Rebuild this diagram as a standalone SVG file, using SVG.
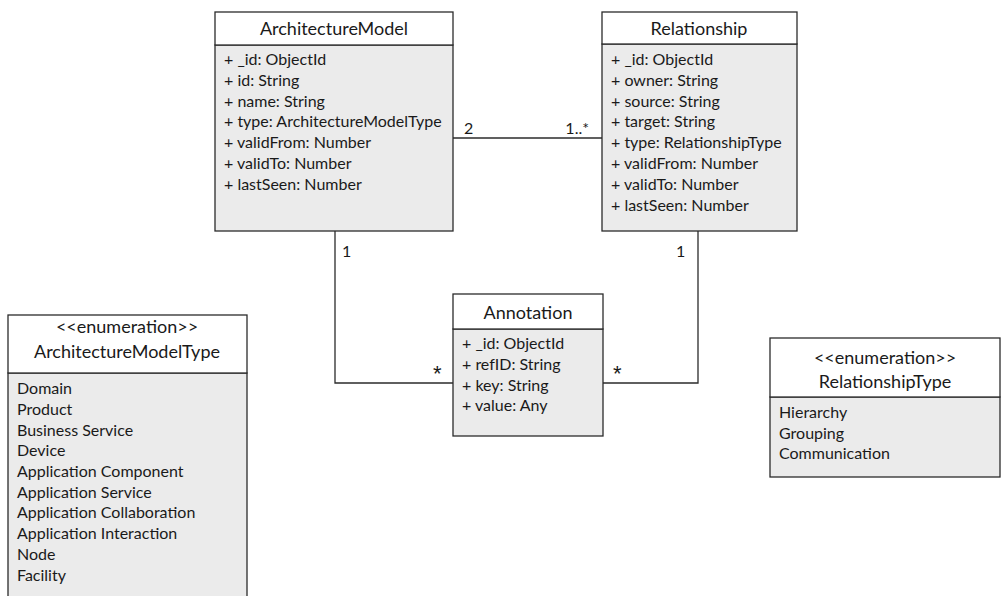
<svg xmlns="http://www.w3.org/2000/svg" width="1001" height="596" viewBox="0 0 1001 596">
  <style>
    .hdr { fill: #ffffff; stroke: #2b2b2b; stroke-width: 1.3; }
    .body { fill: #ebebeb; stroke: #2b2b2b; stroke-width: 1.3; }
    .title { font-family: Lato, "Liberation Sans", sans-serif; font-size: 18px; fill: #1a1a1a; text-anchor: middle; }
    .attr { font-family: Lato, "Liberation Sans", sans-serif; font-size: 16px; fill: #1a1a1a; }
    .mult { font-family: Lato, "Liberation Sans", sans-serif; font-size: 16px; fill: #1a1a1a; }
    .star { font-family: "Liberation Sans", sans-serif; font-size: 22px; fill: #1a1a1a; }
    .conn { fill: none; stroke: #2b2b2b; stroke-width: 1.3; }
  </style>
  <rect width="1001" height="596" fill="#ffffff"/>

  <g id="connectors">
    <line class="conn" x1="453" y1="138" x2="602" y2="138"/>
    <polyline class="conn" points="335,231 335,383 453,383"/>
    <polyline class="conn" points="698,231 698,383 603,383"/>
    <text class="mult" x="464" y="134">2</text>
    <text class="mult" x="589" y="134" text-anchor="end">1..*</text>
    <text class="mult" x="342" y="257">1</text>
    <text class="mult" x="676" y="257">1</text>
    <text class="star" x="433" y="381">*</text>
    <text class="star" x="613" y="381">*</text>
  </g>

  <g id="ArchitectureModel">
    <rect class="body" x="215" y="45" width="238" height="186"/>
    <rect class="hdr" x="215" y="12" width="238" height="33"/>
    <text class="title" x="334" y="35">ArchitectureModel</text>
    <text class="attr" x="224" y="65">+ _id: ObjectId</text>
    <text class="attr" x="224" y="86">+ id: String</text>
    <text class="attr" x="224" y="107">+ name: String</text>
    <text class="attr" x="224" y="127">+ type: ArchitectureModelType</text>
    <text class="attr" x="224" y="148">+ validFrom: Number</text>
    <text class="attr" x="224" y="169">+ validTo: Number</text>
    <text class="attr" x="224" y="190">+ lastSeen: Number</text>
  </g>

  <g id="Relationship">
    <rect class="body" x="602" y="44" width="195" height="187"/>
    <rect class="hdr" x="602" y="12" width="195" height="32"/>
    <text class="title" x="699" y="35">Relationship</text>
    <text class="attr" x="611" y="65">+ _id: ObjectId</text>
    <text class="attr" x="611" y="86">+ owner: String</text>
    <text class="attr" x="611" y="107">+ source: String</text>
    <text class="attr" x="611" y="127">+ target: String</text>
    <text class="attr" x="611" y="148">+ type: RelationshipType</text>
    <text class="attr" x="611" y="169">+ validFrom: Number</text>
    <text class="attr" x="611" y="190">+ validTo: Number</text>
    <text class="attr" x="611" y="211">+ lastSeen: Number</text>
  </g>

  <g id="Annotation">
    <rect class="body" x="453" y="329" width="150" height="107"/>
    <rect class="hdr" x="453" y="294" width="150" height="35"/>
    <text class="title" x="528" y="319">Annotation</text>
    <text class="attr" x="462" y="349">+ _id: ObjectId</text>
    <text class="attr" x="462" y="370">+ refID: String</text>
    <text class="attr" x="462" y="391">+ key: String</text>
    <text class="attr" x="462" y="411">+ value: Any</text>
  </g>

  <g id="ArchitectureModelType">
    <rect class="body" x="8" y="373" width="239" height="230"/>
    <rect class="hdr" x="8" y="315" width="239" height="58"/>
    <text class="title" x="127" y="333">&lt;&lt;enumeration&gt;&gt;</text>
    <text class="title" x="127" y="358">ArchitectureModelType</text>
    <text class="attr" x="17" y="394">Domain</text>
    <text class="attr" x="17" y="415">Product</text>
    <text class="attr" x="17" y="436">Business Service</text>
    <text class="attr" x="17" y="456">Device</text>
    <text class="attr" x="17" y="477">Application Component</text>
    <text class="attr" x="17" y="498">Application Service</text>
    <text class="attr" x="17" y="518">Application Collaboration</text>
    <text class="attr" x="17" y="539">Application Interaction</text>
    <text class="attr" x="17" y="560">Node</text>
    <text class="attr" x="17" y="581">Facility</text>
  </g>

  <g id="RelationshipType">
    <rect class="body" x="770" y="397" width="230" height="80"/>
    <rect class="hdr" x="770" y="338" width="230" height="59"/>
    <text class="title" x="885" y="364">&lt;&lt;enumeration&gt;&gt;</text>
    <text class="title" x="885" y="388">RelationshipType</text>
    <text class="attr" x="779" y="418">Hierarchy</text>
    <text class="attr" x="779" y="439">Grouping</text>
    <text class="attr" x="779" y="459">Communication</text>
  </g>
</svg>
